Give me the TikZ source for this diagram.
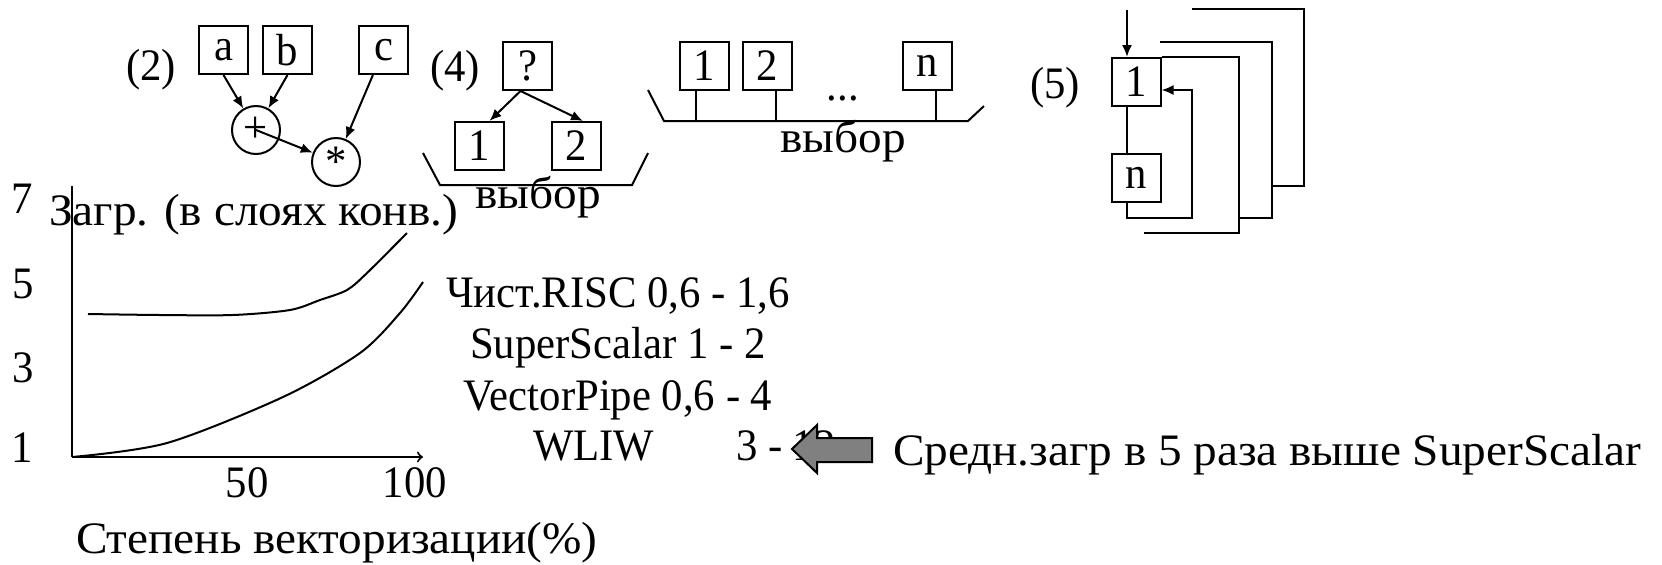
\documentclass[tikz,border=0pt]{standalone}
\usepackage{fontspec}
\setmainfont[FakeStretch=0.95]{Liberation Serif}
\newfontfamily\cyrwide[FakeStretch=1.05]{Liberation Serif}
\usepackage{tikz}
\usetikzlibrary{arrows.meta}

\begin{document}
\begin{tikzpicture}[x=0.5pt, y=-0.5pt, >={Latex[length=6pt,width=5pt]}, line width=1pt,
  blk/.style={draw, minimum width=24.5pt, minimum height=24pt, inner sep=0pt},
  op/.style={draw, circle, minimum size=24pt, inner sep=0pt},
  txt/.style={inner sep=0pt, anchor=base},
  wtxt/.style={inner sep=0pt, anchor=base, font=\cyrwide}]

  \fontsize{22.5}{27}\selectfont
  \useasboundingbox (0,0) rectangle (1662,564);

  %% (2)
  \node[txt] (lab2) at (151,80) {(2)};
  \node[blk] (a) at (223.5,50) {a};
  \node[blk] (b) at (287.5,50) {b};
  \node[blk] (c) at (383.5,50) {c};
  \node[op] (plus) at (256,130) {+};
  \node[op] (star) at (336,162) {*};
  \draw[->] (a.south) -- (plus);
  \draw[->] (b.south) -- (plus);
  \draw[->] (c) -- (star);
  \draw[->] (plus.center) -- (star);

  %% (4)
  \node[txt] (lab4) at (455,81) {(4)};
  \node[blk] (q) at (527.5,66) {?};
  \node[blk] (q1) at (479.5,146) {1};
  \node[blk] (q2) at (576,146) {2};
  \draw[->] ([xshift=-3.5pt]q.south) -- ([xshift=5pt]q1.north);
  \draw[->] ([xshift=-3.5pt]q.south) -- ([xshift=3.5pt]q2.north);
  \draw (423,153) -- (440,185) -- (632,185) -- (648,153);
  \node[wtxt] (sel4) at (538,208) {выбор};

  %% bus
  \node[blk] (p1) at (704,66) {1};
  \node[blk] (p2) at (767.5,66) {2};
  \node[blk] (pn) at (927.5,66) {n};
  \node[txt] (dots) at (843,100) {...};
  \coordinate (busL) at (664,121);
  \coordinate (busR) at (968,121);
  \draw (648,90) -- (busL) -- (busR) -- (984,106);
  \draw ([xshift=-4pt]p1.south) -- ([xshift=-4pt]p1.south |- busL);
  \draw ([xshift=4pt]p2.south) -- ([xshift=4pt]p2.south |- busL);
  \draw ([xshift=4pt]pn.south) -- ([xshift=4pt]pn.south |- busL);
  \node[wtxt] (sel) at (843,152) {выбор};

  %% (5)
  \node[txt] (lab5) at (1055,98) {(5)};
  \node[blk] (r1) at (1136,82) {1};
  \node[blk] (rn) at (1136,178) {n};
  \coordinate (in) at (1127,10);
  \coordinate (fb) at (1192,90);
  \draw[->] (in) -- (in |- r1.north);
  \draw (in |- r1.south) -- (in |- rn.north);
  \draw[->] (in |- rn.south) |- (1192,218) -- (fb) -- (fb -| r1.east);
  \draw (r1.north east) -| (1239,233) -- (1144,233);
  \draw (1160,42) -| (1272,218) -- (1239,218);
  \draw (1192,9) -| (1304,186) -- (1272,186);

  %% chart
  \node[txt] (y7) at (22,213) {7};
  \node[txt] (y5) at (23,298) {5};
  \node[txt] (y3) at (23,382) {3};
  \node[txt] (y1) at (22,462) {1};
  \node[wtxt, anchor=base west] (ylab) at (48,225) {Загр. (в слоях конв.)};
  \coordinate (O) at (72,457);
  \draw (72,186) -- (O);
  \draw[-to] (O) -- (423,457);
  \node[txt] (x50) at (247,497) {50};
  \node[txt] (x100) at (415,497) {100};
  \node[wtxt, anchor=base west] (xlab) at (75,553) {Степень векторизации(\%)};
  \draw plot[smooth] coordinates {(88,314) (160,315) (233,315) (290,310) (320,300) (347,290) (367,273) (407,233)};
  \draw plot[smooth] coordinates {(72,457) (167,443) (283,397) (360,353) (400,313) (423,282)};

  %% legend
  \node[txt] (risc) at (618,307) {Чист.RISC 0,6 - 1,6};
  \node[txt] (ss) at (618,358) {SuperScalar 1 - 2};
  \node[txt] (vp) at (618,410) {VectorPipe 0,6 - 4};
  \node[txt, anchor=base west] (wl) at (532,460) {WLIW};
  \node[txt, anchor=base west] (wlv) at (735,460) {3 - 12};
  \draw[fill=gray] (792,449) -- (817,425) -- (817,438) -- (872,438) -- (872,462) -- (817,462) -- (817,473) -- cycle;
  \node[wtxt, anchor=base west] (note) at (892,465) {Средн.загр в 5 раза выше SuperScalar};
\end{tikzpicture}
\end{document}
